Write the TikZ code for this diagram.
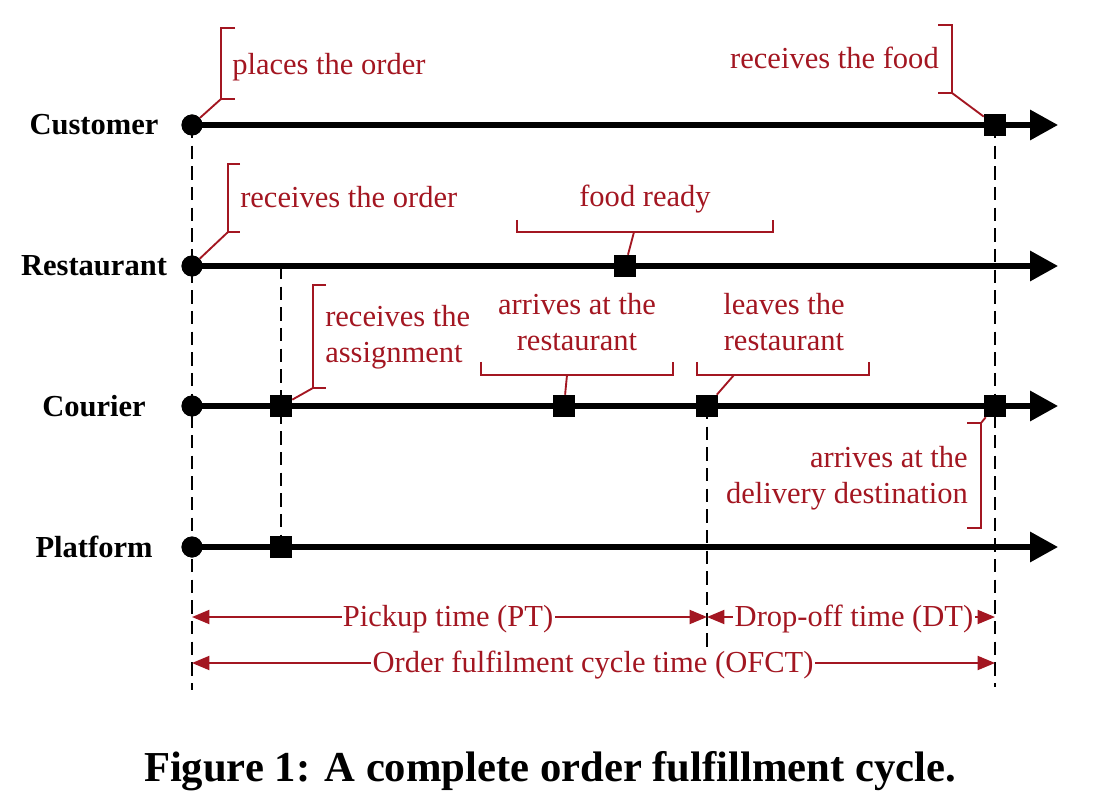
\documentclass[tikz,border=0pt]{standalone}
\usepackage{fontspec}
\setmainfont{Liberation Serif}
\usetikzlibrary{arrows.meta}
\definecolor{dred}{RGB}{163,22,33}
\begin{document}
\begin{tikzpicture}[x=0.75pt,y=-0.75pt,
  mainline/.style={line width=4.1pt,-{Triangle[length=21pt,width=22pt]}},
  dashline/.style={line width=1.3pt,dash pattern=on 10pt off 5.5pt},
  brk/.style={dred,line width=1.4pt},
  dim/.style={dred,line width=1.4pt,{Triangle[length=13pt,width=10.5pt]}-{Triangle[length=13pt,width=10.5pt]}},
  ann/.style={text=dred,font=\fontsize{22.9}{27}\selectfont,inner sep=0pt},
  dimlab/.style={text=dred,fill=white,font=\fontsize{22.9}{27}\selectfont,inner sep=1pt,anchor=base},
  rowlab/.style={font=\fontsize{22.9}{27}\selectfont\bfseries,inner sep=0pt,anchor=base},
  dot/.style={circle,fill=black,minimum size=15.75pt,inner sep=0pt},
  sq/.style={rectangle,fill=black,minimum size=16.5pt,inner sep=0pt}
]
\useasboundingbox (0,0) rectangle (1112,812);

% markers
\node[dot] (cu0) at (192,125) {};
\node[sq]  (cu1) at (995,125) {};
\node[dot] (re0) at (192,266) {};
\node[sq]  (re1) at (625,266) {};
\node[dot] (co0) at (192,406) {};
\node[sq]  (co1) at (281,406) {};
\node[sq]  (co2) at (564,406) {};
\node[sq]  (co3) at (707,406) {};
\node[sq]  (co4) at (995,406) {};
\node[dot] (pl0) at (192,547) {};
\node[sq]  (pl1) at (281,547) {};

% line ends
\coordinate (cuE) at (1058,125);
\coordinate (reE) at (1058,266);
\coordinate (coE) at (1058,406);
\coordinate (plE) at (1058,547);

% dashed guides
\coordinate (g0) at (192,690);
\coordinate (g1) at (707,656);
\coordinate (g2) at (995,687);
\draw[dashline] (cu0.center) -- (g0);
\draw[dashline] (re0.center -| co1.center) -- (pl1.center);
\draw[dashline] (co3.center) -- (g1);
\draw[dashline] (cu1.center) -- (g2);

% time lines
\draw[mainline] (cu0.center) -- (cuE);
\draw[mainline] (re0.center) -- (reE);
\draw[mainline] (co0.center) -- (coE);
\draw[mainline] (pl0.center) -- (plE);

% redraw markers on top
\foreach \n in {cu0,re0,co0,pl0}{\fill (\n.center) circle (7.875pt);}
\foreach \n in {cu1,re1,co1,co2,co3,co4,pl1}{\fill ([shift={(-8.25pt,-8.25pt)}]\n.center) rectangle ([shift={(8.25pt,8.25pt)}]\n.center);}

% row labels
\node[rowlab] (lcu) at (94,135) {Customer};
\node[rowlab] (lre) at (94,276) {Restaurant};
\node[rowlab] (lco) at (94,416) {Courier};
\node[rowlab] (lpl) at (94,557) {Platform};

% annotations
\node[ann,anchor=base west] (t1) at (232,75) {places the order};
\draw[brk] (235,28) -- (221,28) -- (221,99) coordinate (b1) -- (235,99);
\draw[brk] (b1) -- (cu0);

\node[ann,anchor=base west] (t2) at (240,208) {receives the order};
\draw[brk] (240,164) -- (228,164) -- (228,232) coordinate (b2) -- (240,232);
\draw[brk] (b2) -- (re0);

\node[ann,anchor=base] (t3) at (645,207) {food ready};
\draw[brk] (517,220) -- (517,232) -- (773,232) -- (773,220);
\coordinate (b3) at (634,232);
\draw[brk] (b3) -- (re1);

\node[ann,anchor=base west,align=left] (t4) at (325,363) {receives the\\assignment};
\draw[brk] (326,285) -- (313,285) -- (313,388) coordinate (b4) -- (326,388);
\draw[brk] (b4) -- (co1);

\node[ann,anchor=base,align=center] (t5) at (577,350) {arrives at the\\restaurant};
\draw[brk] (481,362) -- (481,375) -- (673,375) -- (673,362);
\coordinate (b5) at (567,375);
\draw[brk] (b5) -- (co2);

\node[ann,anchor=base,align=center] (t6) at (784,350) {leaves the\\restaurant};
\draw[brk] (697,362) -- (697,375) -- (869,375) -- (869,362);
\coordinate (b6) at (734,375);
\draw[brk] (b6) -- (co3);

\node[ann,anchor=base east] (t7) at (939,69) {receives the food};
\draw[brk] (938,25) -- (952,25) -- (952,93) coordinate (b7) -- (938,93);
\draw[brk] (b7) -- (cu1);

\node[ann,anchor=base east,align=right] (t8) at (968,503) {arrives at the\\delivery destination};
\draw[brk] (967,528) -- (981,528) -- (981,423) coordinate (b8) -- (967,423);
\draw[brk] (b8) -- (co4);

% durations
\coordinate (d0) at (192,617);
\coordinate (d1) at (707,617);
\coordinate (d2) at (995,617);
\coordinate (e0) at (192,663);
\coordinate (e1) at (995,663);
\draw[dim] (d0) -- (d1);
\draw[dim] (d1) -- (d2);
\draw[dim] (e0) -- (e1);
\node[dimlab] (pt) at (448,626) {Pickup time (PT)};
\node[dimlab] (dt) at (854,626) {Drop-off time (DT)};
\node[dimlab] (of) at (593,672) {Order fulfilment cycle time (OFCT)};

% caption
\node[font=\fontsize{32}{38}\selectfont\bfseries,anchor=base,inner sep=0pt] (cap) at (550,781) {Figure 1: A complete order fulfillment cycle.};
\end{tikzpicture}
\end{document}
